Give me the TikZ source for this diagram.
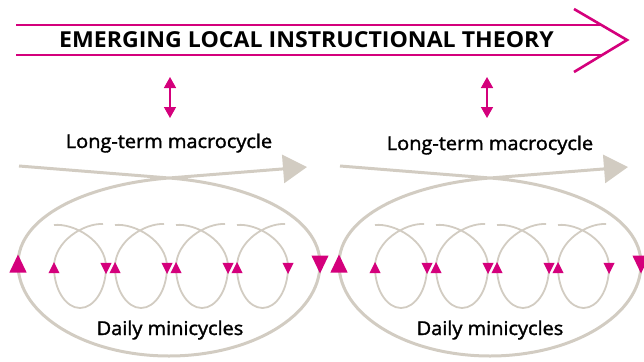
\documentclass[tikz,border=0pt]{standalone}
\usepackage{fontspec}
\setmainfont{Open Sans}
\newfontfamily\labelfont{Open Sans}[FakeBold=1.6]
\usetikzlibrary{arrows.meta}
\definecolor{mag}{RGB}{212,0,124}
\definecolor{sand}{RGB}{210,204,194}
\tikzset{
  band/.style={draw=mag, line width=2pt},
  chev/.style={draw=mag, line width=2.6pt, line join=miter},
  dblarrow/.style={draw=mag, line width=1.5pt,
     {Triangle[length=11pt,width=12pt]}-{Triangle[length=11pt,width=12pt]}},
  macro/.style={draw=sand, line width=3pt, -{Triangle[length=24pt,width=28pt]}},
  mini/.style={draw=sand, line width=1.8pt},
  lbl/.style={font=\labelfont\fontsize{19}{21}\selectfont, anchor=base, inner sep=0pt, xscale=1.05},
  titlelbl/.style={font=\bfseries\fontsize{22}{25}\selectfont, inner sep=0pt, xscale=1.05},
  uptri/.pic={\fill[mag] (0,-6) -- (5.6,5.2) -- (-5.6,5.2) -- cycle;},
  downtri/.pic={\fill[mag] (0,6) -- (5.6,-5.2) -- (-5.6,-5.2) -- cycle;},
  bigup/.pic={\fill[mag] (0,-9.5) -- (8.6,8.5) -- (-8.6,8.5) -- cycle;},
  bigdown/.pic={\fill[mag] (0,9.5) -- (8.6,-8.5) -- (-8.6,-8.5) -- cycle;},
}
\newcommand\drawminiloop[2]{%
  \draw[mini] (#1,225) .. controls ({#1+20},223) and (#2,241) .. (#2,267)
     .. controls (#2,290) and ({(#1+#2)/2+14},308) .. ({(#1+#2)/2},308)
     .. controls ({(#1+#2)/2-14},308) and (#1,290) .. (#1,267)
     .. controls (#1,241) and ({#2-22},223) .. ({#2-3},224);
  \pic at (#1,268) {uptri};
  \pic at (#2,268) {downtri};
}
\newcommand\drawmacroloop{%
  \coordinate (s) at (19,166);
  \coordinate (x) at (169,178);
  \coordinate (t) at (307,167);
  \draw[macro] (s) -- (x) .. controls (252,184.6) and (320,216.5) .. (320,264)
     .. controls (320,315) and (252,356) .. (169,356)
     .. controls (86,356) and (18,315) .. (18,264)
     .. controls (18,216.5) and (86,184.6) .. (x) -- (t);
  \pic at (18,264) {bigup};
  \pic at (320,264) {bigdown};
  \drawminiloop{54}{106}
  \drawminiloop{115}{167}
  \drawminiloop{176}{228}
  \drawminiloop{237}{288}
}
\begin{document}
\begin{tikzpicture}[x=1pt,y=-1pt]
\useasboundingbox (0,0) rectangle (644,361);
% top arrow
\draw[band] (16,25) -- (601,25);
\draw[band] (16,55) -- (602,55);
\draw[chev] (574,9) -- (627,40) -- (574,72);
\node[titlelbl] (title) at (306.5,40) {EMERGING LOCAL INSTRUCTIONAL THEORY};
% double arrows
\coordinate (a1t) at (170,77);
\coordinate (a1b) at (170,118);
\coordinate (a2t) at (487,77);
\coordinate (a2b) at (487,118);
\draw[dblarrow] (a1t) -- (a1b);
\draw[dblarrow] (a2t) -- (a2b);
% labels
\node[lbl] (mac1) at (169,148) {Long-term macrocycle};
\node[lbl] (mac2) at (490,150) {Long-term macrocycle};
% loops
\begin{scope}
\drawmacroloop
\end{scope}
\begin{scope}[xshift=321pt]
\drawmacroloop
\end{scope}
\node[lbl] (day1) at (170,335) {Daily minicycles};
\node[lbl] (day2) at (490,335) {Daily minicycles};
\end{tikzpicture}
\end{document}
